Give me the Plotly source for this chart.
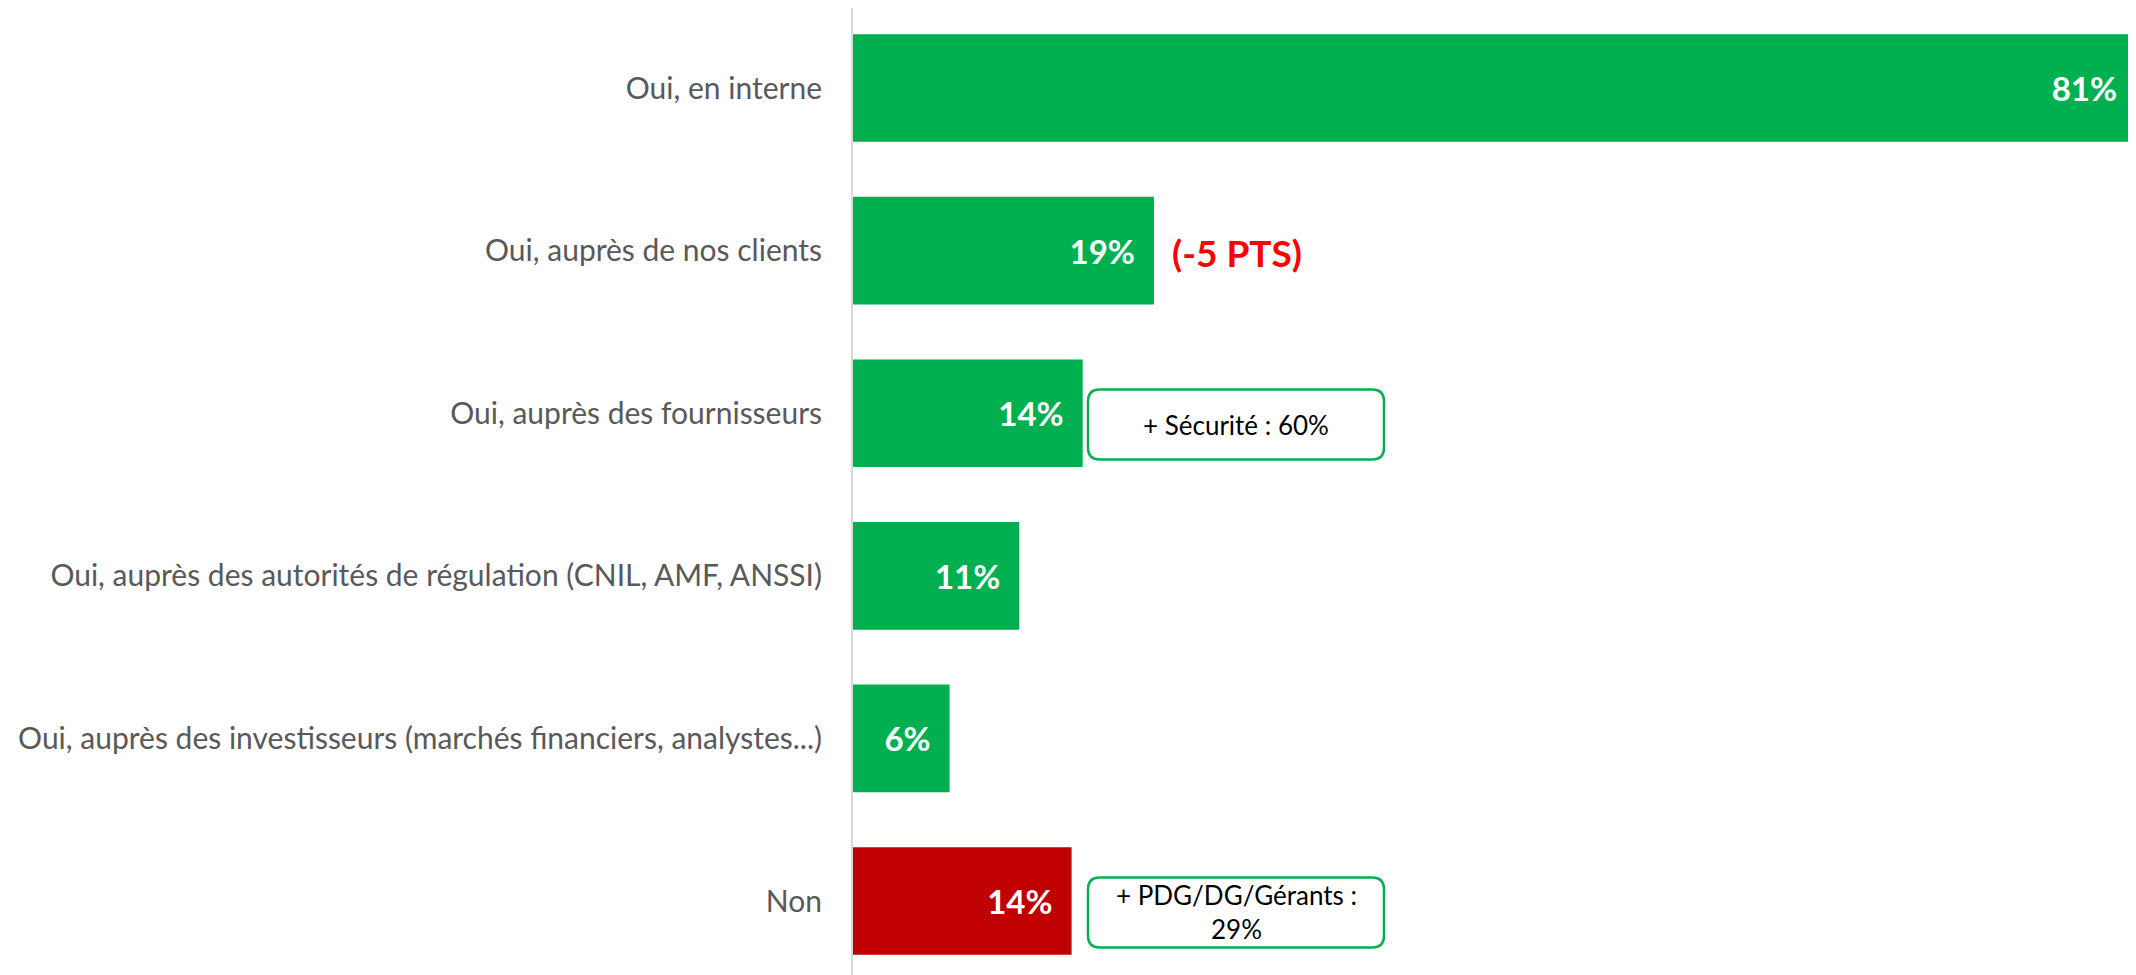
import plotly.graph_objects as go

categories = [
    "Oui, en interne",
    "Oui, auprès de nos clients",
    "Oui, auprès des fournisseurs",
    "Oui, auprès des autorités de régulation (CNIL, AMF, ANSSI)",
    "Oui, auprès des investisseurs (marchés financiers, analystes...)",
    "Non",
]
values = [81, 19, 14.5, 10.5, 6.1, 13.8]
value_labels = ["81%", "19%", "14%", "11%", "6%", "14%"]
bar_colors = ["#00B050", "#00B050", "#00B050", "#00B050", "#00B050", "#C00000"]

change_index = 1
change_text = "(-5 PTS)"

box_notes = [
    (2, "+ Sécurité : 60%"),
    (5, "+ PDG/DG/Gérants :<br>29%"),
]

positions = list(range(len(categories)))

# page body has an 8px default margin; the figure is sized to compensate
FIG_W, FIG_H = 2128, 967
M_L = 845

fig = go.Figure()
fig.add_trace(go.Bar(
    x=values,
    y=positions,
    orientation="h",
    marker=dict(color=bar_colors, line=dict(width=0)),
    text=[t + "\u00a0\u00a0" for t in value_labels],
    textposition="inside",
    insidetextanchor="end",
    textangle=0,
    textfont=dict(family="Lato", size=33, color="white", weight="bold"),
    cliponaxis=False,
    hoverinfo="skip",
))

# red change annotation
fig.add_annotation(
    x=values[change_index], y=positions[change_index],
    xref="x", yref="y",
    text="<b>" + change_text + "</b>",
    showarrow=False, xanchor="left", yanchor="middle",
    xshift=16, yshift=-2,
    font=dict(family="Lato", size=37, color="#FF0000"),
)

# rounded boxes with notes
X_PER_PX = 81 / (FIG_W - M_L)
Y_PER_PX = 1 / 162.6
box_left_px = 1088 - 853
box_w_px = 296
box_h_px = 70
r_px = 12
for idx, txt in box_notes:
    x0 = box_left_px * X_PER_PX
    x1 = (box_left_px + box_w_px) * X_PER_PX
    yc = positions[idx] + 0.07
    y0 = yc - box_h_px / 2 * Y_PER_PX
    y1 = yc + box_h_px / 2 * Y_PER_PX
    rx = r_px * X_PER_PX
    ry = r_px * Y_PER_PX
    path = (
        f"M {x0+rx},{y0} L {x1-rx},{y0} Q {x1},{y0} {x1},{y0+ry} "
        f"L {x1},{y1-ry} Q {x1},{y1} {x1-rx},{y1} "
        f"L {x0+rx},{y1} Q {x0},{y1} {x0},{y1-ry} "
        f"L {x0},{y0+ry} Q {x0},{y0} {x0+rx},{y0} Z"
    )
    fig.add_shape(type="path", path=path, xref="x", yref="y",
                  line=dict(color="#00B050", width=2.5), fillcolor="white", layer="above")
    fig.add_annotation(
        x=(x0 + x1) / 2, y=yc, xref="x", yref="y",
        text=txt, showarrow=False, xanchor="center", yanchor="middle",
        font=dict(family="Lato", size=26, color="black"),
    )

fig.update_layout(
    width=FIG_W, height=FIG_H,
    margin=dict(l=M_L, r=0, t=0, b=0, autoexpand=False),
    paper_bgcolor="white", plot_bgcolor="white",
    bargap=0.338,
    showlegend=False,
    xaxis=dict(range=[0, 81], visible=False, showgrid=False, zeroline=False),
    yaxis=dict(
        range=[5.455, -0.492],
        tickmode="array", tickvals=positions, ticktext=categories,
        showgrid=False, zeroline=False,
        showline=True, linecolor="#D9D9D9", linewidth=2,
        ticks="", ticklabelstandoff=23,
        tickfont=dict(family="Lato", size=30, color="#595959"),
    ),
)

fig.write_html("out.html")
